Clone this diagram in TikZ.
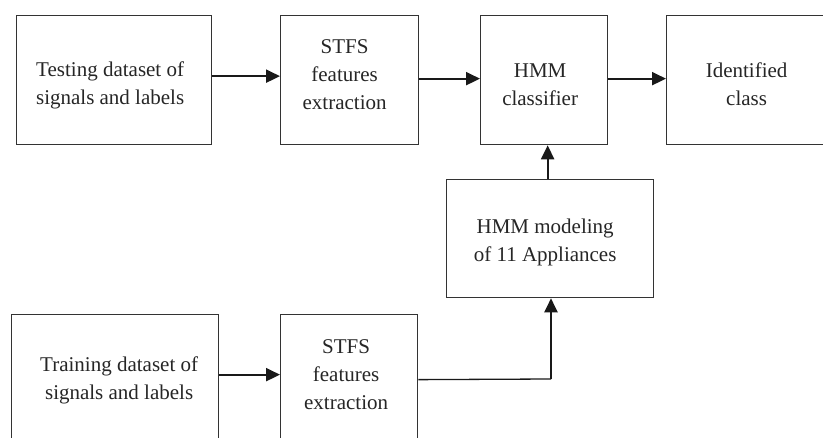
\documentclass[tikz,border=0pt]{standalone}
\usepackage{fontspec}
\setmainfont{Liberation Serif}
\usetikzlibrary{arrows.meta}
\begin{document}
\begin{tikzpicture}[x=1pt,y=-1pt,
  box/.style={draw=black!80, line width=1.3pt, inner sep=0pt, anchor=north west},
  txt/.style={align=center, inner sep=0pt, font=\fontsize{21}{28}\selectfont, text=black!85},
  conn/.style={line width=2.2pt, draw=black!90, -{Triangle[length=14pt,width=13pt]}},
  thinconn/.style={line width=1.3pt, draw=black!90}]
\useasboundingbox (0,0) rectangle (823,438);
\clip (0,0) rectangle (823,438);
\fill[white] (0,0) rectangle (823,438);

\node[box, minimum width=195pt, minimum height=129pt] (test) at (16,15) {};
\node[box, minimum width=138pt, minimum height=129pt] (stfsA) at (280,15) {};
\node[box, minimum width=127pt, minimum height=129pt] (hmmc) at (480,15) {};
\node[box, minimum width=175pt, minimum height=129pt] (ident) at (666,15) {};
\node[box, minimum width=207pt, minimum height=118pt] (model) at (446,179) {};
\node[box, minimum width=207pt, minimum height=126pt] (train) at (11,314) {};
\node[box, minimum width=137pt, minimum height=126pt] (stfsB) at (280,314) {};

\node[txt] (testT) at ([xshift=-4pt,yshift=-5pt]test.center) {Testing dataset of\\signals and labels};
\node[txt] (stfsAT) at ([xshift=-5pt,yshift=5pt]stfsA.center) {STFS\\features\\extraction};
\node[txt] (hmmcT) at ([xshift=-4pt,yshift=-5pt]hmmc.center) {HMM\\classifier};
\node[txt] (identT) at ([xshift=-7.5pt,yshift=-4pt]ident.center) {Identified\\class};
\node[txt] (modelT) at ([xshift=-5pt,yshift=-4pt]model.center) {HMM modeling\\of 11 Appliances};
\node[txt] (trainT) at ([xshift=4pt,yshift=-3pt]train.center) {Training dataset of\\signals and labels};
\node[txt] (stfsBT) at ([xshift=-3pt,yshift=2.5pt]stfsB.center) {STFS\\features\\extraction};

\draw[conn] ([yshift=4pt]test.east) -- ([yshift=4pt]stfsA.west);
\draw[conn] ([yshift=1.5pt]stfsA.east) -- ([yshift=1.5pt]hmmc.west);
\draw[conn] ([yshift=1.5pt]hmmc.east) -- ([yshift=1.5pt]ident.west);
\draw[conn] ([xshift=-2.5pt]model.north) -- ([xshift=-2.5pt]model.north |- hmmc.south);
\draw[conn] ([yshift=3pt]train.east) -- ([yshift=3pt]stfsB.west);
\coordinate (bend) at (551,379);
\draw[thinconn] ([yshift=-2pt]stfsB.east) -- (bend);
\draw[conn] (bend) -- (bend |- model.south);
\end{tikzpicture}
\end{document}
